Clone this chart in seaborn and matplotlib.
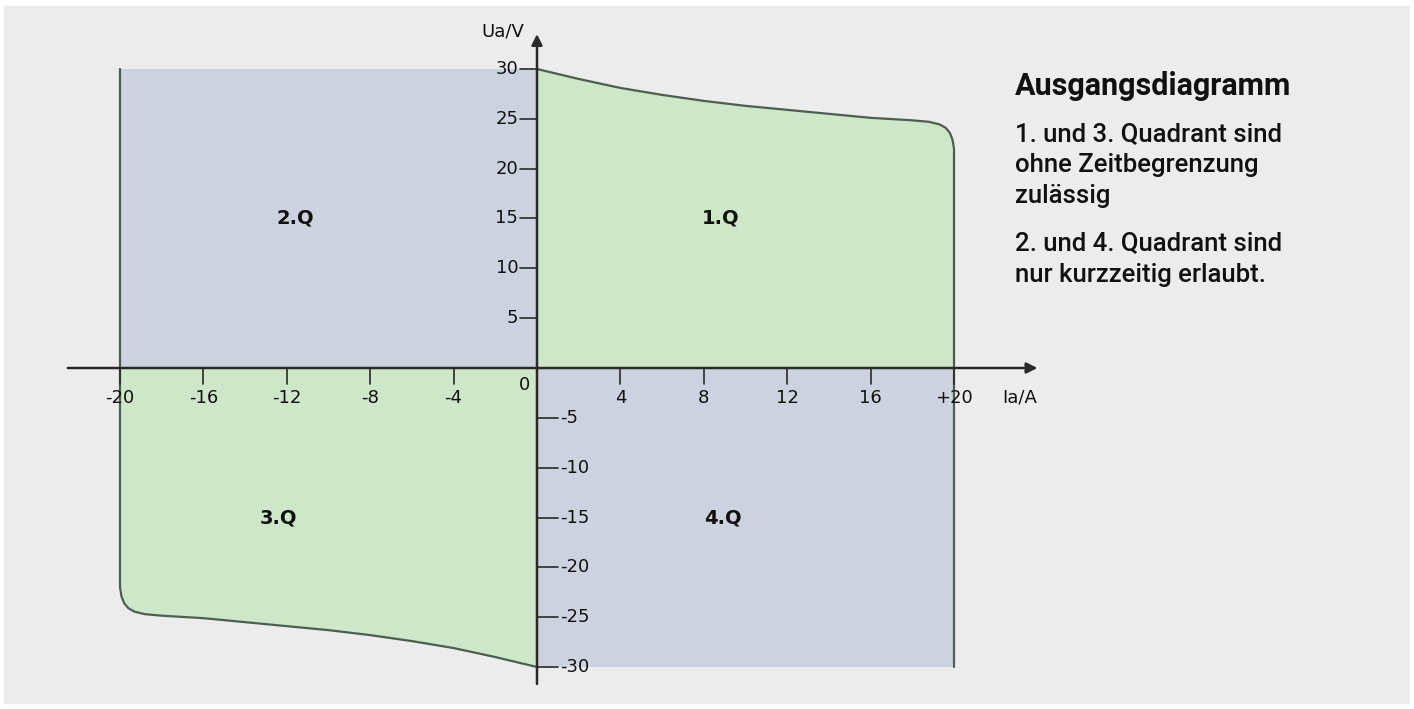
import numpy as np
import pandas as pd
import matplotlib
matplotlib.use("Agg")
import matplotlib.pyplot as plt
from matplotlib.patches import Rectangle
import seaborn as sns

# =============================
# DATEN
# =============================
# Grenzkurve 1. Quadrant (Ia in A, Ua in V)
ia_q1 = [0, 1, 2, 4, 6, 8, 10, 12, 14, 16, 18, 18.8, 19.3, 19.6, 19.8, 19.93, 20, 20]
ua_q1 = [30, 29.5, 29.0, 28.1, 27.4, 26.8, 26.3, 25.9, 25.5, 25.1, 24.85, 24.7, 24.45, 24.1, 23.6, 22.9, 22, -30]

# Grenzkurve 3. Quadrant
ia_q3 = [-20, -20, -19.93, -19.8, -19.6, -19.3, -18.8, -18, -16, -14, -12, -10, -8, -6, -4, -2, -1, 0]
ua_q3 = [30, -22, -22.9, -23.6, -24.1, -24.45, -24.7, -24.85, -25.1, -25.5, -25.9, -26.3, -26.8, -27.4, -28.1, -29.0, -29.5, -30]

x_ticks = [-20, -16, -12, -8, -4, 4, 8, 12, 16, 20]
x_labels = ["-20", "-16", "-12", "-8", "-4", "4", "8", "12", "16", "+20"]
y_ticks_pos = [5, 10, 15, 20, 25, 30]
y_ticks_neg = [-5, -10, -15, -20, -25, -30]

quadranten = ["1.Q", "2.Q", "3.Q", "4.Q"]
quadrant_pos = [(8.8, 15), (-11.6, 15), (-12.4, -15), (8.9, -15)]

titel = "Ausgangsdiagramm"
text_zeilen = [
    "1. und 3. Quadrant sind",
    "ohne Zeitbegrenzung",
    "zulässig",
    "2. und 4. Quadrant sind",
    "nur kurzzeitig erlaubt.",
]

# =============================
# STIL
# =============================
sns.set_theme(style="white")
plt.rcParams["font.family"] = ["DejaVu Sans"]

GRUEN = "#cde7c8"
BLAU = "#ccd2df"
HINTERGRUND = "#ececec"
KURVE = "#4d5e50"
ACHSE = "#2a2a2a"

W, H = 1414, 709
fig = plt.figure(figsize=(W / 100, H / 100), dpi=100)
fig.patch.set_facecolor("white")
fig.patches.append(Rectangle((4 / W, 6 / H), (W - 9) / W, (H - 12) / H,
                             transform=fig.transFigure, color=HINTERGRUND, zorder=-10))

# Achsen so legen, dass 0/0 bei (537, 368) px liegt
px_x, px_y = 20.85, 9.967
x0_px, y0_px = 537, 368
xlim = (-25, 28)
ylim = (-33, 35)
left = (x0_px + xlim[0] * px_x) / W
width = (xlim[1] - xlim[0]) * px_x / W
bottom = (H - (y0_px - ylim[0] * px_y)) / H
height = (ylim[1] - ylim[0]) * px_y / H
ax = fig.add_axes([left, bottom, width, height])
ax.set_xlim(*xlim)
ax.set_ylim(*ylim)
ax.axis("off")
ax.patch.set_alpha(0)

# =============================
# FLÄCHEN
# =============================
ax.fill_between([-20, 0], 0, 30, color=BLAU, lw=0, zorder=1)
ax.fill_between([0, 20], -30, 0, color=BLAU, lw=0, zorder=1)
ax.fill_between(ia_q1[:-1], 0, ua_q1[:-1], color=GRUEN, lw=0, zorder=1)
ax.fill_between(ia_q3[1:], ua_q3[1:], 0, color=GRUEN, lw=0, zorder=1)

# =============================
# KURVEN
# =============================
sns.lineplot(x=ia_q1, y=ua_q1, sort=False, estimator=None, color=KURVE,
             lw=1.6, ax=ax, zorder=3)
sns.lineplot(x=ia_q3, y=ua_q3, sort=False, estimator=None, color=KURVE,
             lw=1.6, ax=ax, zorder=3)

# =============================
# ACHSEN MIT PFEILEN
# =============================
pfeil = dict(arrowstyle="-|>", color=ACHSE, lw=1.8, mutation_scale=16,
             shrinkA=0, shrinkB=0)
ax.annotate("", xy=(24.0, 0), xytext=(-22.5, 0), arrowprops=pfeil, zorder=4)
ax.annotate("", xy=(0, 33.5), xytext=(0, -31.7), arrowprops=pfeil, zorder=4)

fs = 13
for t, lab in zip(x_ticks, x_labels):
    ax.plot([t, t], [0, -1.6], color=ACHSE, lw=1.2, zorder=4)
    ax.text(t, -3.0, lab, ha="center", va="center", fontsize=fs, color="#111")
ax.text(-0.58, -1.7, "0", ha="center", va="center", fontsize=fs, color="#111")

for t in y_ticks_pos:
    ax.plot([-0.8, 0], [t, t], color=ACHSE, lw=1.2, zorder=4)
    ax.text(-0.9, t, f"{t}", ha="right", va="center", fontsize=fs, color="#111")
for t in y_ticks_neg:
    ax.plot([0, 1.0], [t, t], color=ACHSE, lw=1.2, zorder=4)
    ax.text(1.1, t, f"{t}", ha="left", va="center", fontsize=fs, color="#111")

ax.text(-0.6, 33.8, "Ua/V", ha="right", va="center", fontsize=fs, color="#111")
ax.text(22.3, -3.0, "Ia/A", ha="left", va="center", fontsize=fs, color="#111")

for name, (qx, qy) in zip(quadranten, quadrant_pos):
    ax.text(qx, qy, name, ha="center", va="center", fontsize=14,
            fontweight="bold", color="#111", zorder=5)

# =============================
# TEXTBLOCK RECHTS
# =============================
fig.text(1015 / W, 1 - 95 / H, titel, ha="left", va="baseline",
         fontsize=22, fontweight="bold", family=["Roboto", "DejaVu Sans"], color="#111")
baselines = [141, 172, 203, 250, 282]
for zeile, bl in zip(text_zeilen, baselines):
    fig.text(1015 / W, 1 - bl / H, zeile, ha="left", va="baseline",
             fontsize=18.5, fontweight="medium", family=["Roboto", "DejaVu Sans"],
             color="#111")

fig.savefig("out.png", dpi=100, facecolor=fig.get_facecolor())
